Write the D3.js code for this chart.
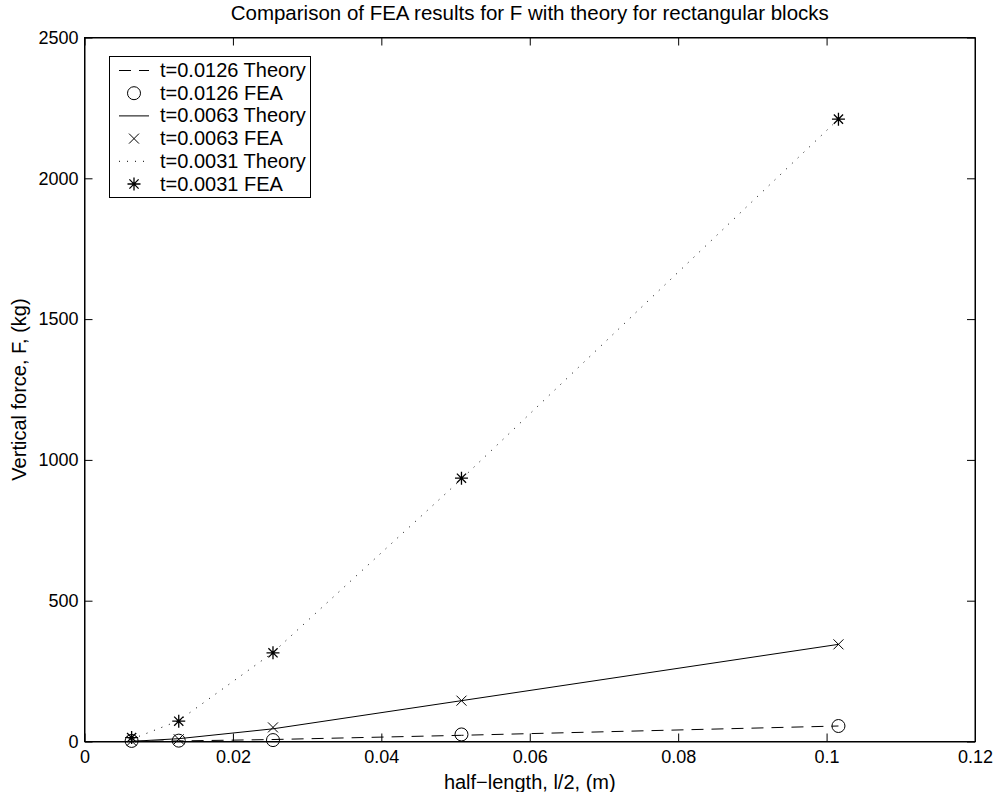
<!DOCTYPE html>
<html>
<head>
<meta charset="utf-8">
<script src="https://cdn.jsdelivr.net/npm/d3@7"></script>
<style>
  body { margin: 0; background: #fff; }
  text { font-family: "Liberation Sans", Arial, sans-serif; fill: #000; }
</style>
</head>
<body>
<div id="chart-area"></div>
<script>
// half-length values (m)
var halfLength = [0.00635, 0.0127, 0.0254, 0.0508, 0.1016]

// theory and FEA values (kg)
var theory0126 = [0.5, 2, 7, 22, 55]
var fea0126 = [2, 3, 5, 25, 55]
var theory0063 = [0.5, 10, 45, 145, 345]
var fea0063 = [2, 8, 50, 145, 345]
var theory0031 = [8, 74, 316, 932, 2210]
var fea0031 = [14, 72, 315, 935, 2210]

var xTicks = [0, 0.02, 0.04, 0.06, 0.08, 0.1, 0.12]
var yTicks = [0, 500, 1000, 1500, 2000, 2500]

var legendLabels = ["t=0.0126 Theory", "t=0.0126 FEA", "t=0.0063 Theory",
                    "t=0.0063 FEA", "t=0.0031 Theory", "t=0.0031 FEA"]

var canvasWidth = 997, canvasHeight = 792
var margin = {top: 37.5, left: 84.5, right: 22, bottom: 50.5}

var svg = d3.select("#chart-area")
  .append("svg")
  .attr("width", canvasWidth)
  .attr("height", canvasHeight)

var x = d3.scaleLinear()
  .domain([0, 0.12])
  .range([margin.left, canvasWidth - margin.right])

var y = d3.scaleLinear()
  .domain([0, 2500])
  .range([canvasHeight - margin.bottom, margin.top])

var tickLen = 8

function styleTicks(g) {
  g.selectAll("text").attr("font-size", "18px").attr("font-family", "Liberation Sans, Arial, sans-serif")
}

// axes (MATLAB style box, ticks inside)
svg.append("g")
  .attr("transform", "translate(0," + y(0) + ")")
  .call(d3.axisBottom(x).tickValues(xTicks).tickSizeInner(-tickLen).tickSizeOuter(0)
    .tickPadding(9).tickFormat(function(d){ return d === 0 ? "0" : d3.format(".2~f")(d) }))
  .call(styleTicks)

svg.append("g")
  .attr("transform", "translate(0," + y(2500) + ")")
  .call(d3.axisTop(x).tickValues(xTicks).tickSizeInner(-tickLen).tickSizeOuter(0).tickFormat(""))

svg.append("g")
  .attr("transform", "translate(" + x(0) + ",0)")
  .call(d3.axisLeft(y).tickValues(yTicks).tickSizeInner(-tickLen).tickSizeOuter(0)
    .tickPadding(6).tickFormat(d3.format("d")))
  .call(styleTicks)

svg.append("g")
  .attr("transform", "translate(" + x(0.12) + ",0)")
  .call(d3.axisRight(y).tickValues(yTicks).tickSizeInner(-tickLen).tickSizeOuter(0).tickFormat(""))

svg.selectAll(".domain").attr("stroke", "#000")
svg.selectAll(".tick line").attr("stroke", "#000")

svg.append("rect")
  .attr("x", x(0)).attr("y", y(2500))
  .attr("width", x(0.12) - x(0)).attr("height", y(0) - y(2500))
  .attr("fill", "none").attr("stroke", "#000").attr("stroke-width", 1)

// titles
svg.append("text")
  .attr("x", (x(0) + x(0.12)) / 2).attr("y", 20)
  .attr("text-anchor", "middle").attr("font-size", "20.5px")
  .text("Comparison of FEA results for F with theory for rectangular blocks")

svg.append("text")
  .attr("x", (x(0) + x(0.12)) / 2).attr("y", 789)
  .attr("text-anchor", "middle").attr("font-size", "20px")
  .text("half\u2212length, l/2, (m)")

svg.append("text")
  .attr("transform", "translate(26," + (y(0) + y(2500)) / 2 + ") rotate(-90)")
  .attr("text-anchor", "middle").attr("font-size", "20px")
  .text("Vertical force, F, (kg)")

// lines
var line = d3.line()
  .x(function(d){ return x(d[0]) })
  .y(function(d){ return y(d[1]) })

var styles = {dashed: "12,8", solid: null, dotted: "1,7"}

function drawLine(values, dash) {
  svg.append("path")
    .datum(d3.zip(halfLength, values))
    .attr("d", line)
    .attr("fill", "none")
    .attr("stroke", "#000")
    .attr("stroke-width", 1)
    .attr("stroke-dasharray", dash)
}

drawLine(theory0126, styles.dashed)
drawLine(theory0063, styles.solid)
drawLine(theory0031, styles.dotted)

// markers
function marker(g, type) {
  if (type === "circle") {
    g.append("circle").attr("r", 6.5).attr("fill", "none").attr("stroke", "#000").attr("stroke-width", 1)
  } else if (type === "x") {
    g.append("path").attr("d", "M-5,-5L5,5M-5,5L5,-5").attr("stroke", "#000").attr("stroke-width", 1)
  } else {
    g.append("path").attr("d", "M-6.5,0L6.5,0M0,-6.5L0,6.5M-4.6,-4.6L4.6,4.6M-4.6,4.6L4.6,-4.6")
      .attr("stroke", "#000").attr("stroke-width", 1.3)
  }
}

function drawMarkers(values, type) {
  svg.append("g").selectAll("g")
    .data(d3.zip(halfLength, values))
    .enter().append("g")
      .attr("transform", function(d){ return "translate(" + x(d[0]) + "," + y(d[1]) + ")" })
      .each(function(){ marker(d3.select(this), type) })
}

drawMarkers(fea0126, "circle")
drawMarkers(fea0063, "x")
drawMarkers(fea0031, "star")

// legend
var legendPos = {x: 109.5, y: 56.5, w: 201, h: 141}
var legend = svg.append("g")

legend.append("rect")
  .attr("x", legendPos.x).attr("y", legendPos.y)
  .attr("width", legendPos.w).attr("height", legendPos.h)
  .attr("fill", "#fff").attr("stroke", "#000").attr("stroke-width", 1)

var legendKinds = [["line", styles.dashed], ["circle"], ["line", styles.solid],
                   ["x"], ["line", styles.dotted], ["star"]]

legendLabels.forEach(function(label, i){
  var cy = legendPos.y + 14 + i * 22.7
  var kind = legendKinds[i]
  if (kind[0] === "line") {
    legend.append("line")
      .attr("x1", 119).attr("x2", 149).attr("y1", cy).attr("y2", cy)
      .attr("stroke", "#000").attr("stroke-width", 1)
      .attr("stroke-dasharray", kind[1])
  } else {
    var g = legend.append("g").attr("transform", "translate(134," + cy + ")")
    marker(g, kind[0])
  }
  legend.append("text")
    .attr("x", 160).attr("y", cy + 6.5)
    .attr("font-size", "20px")
    .text(label)
})
</script>
</body>
</html>
